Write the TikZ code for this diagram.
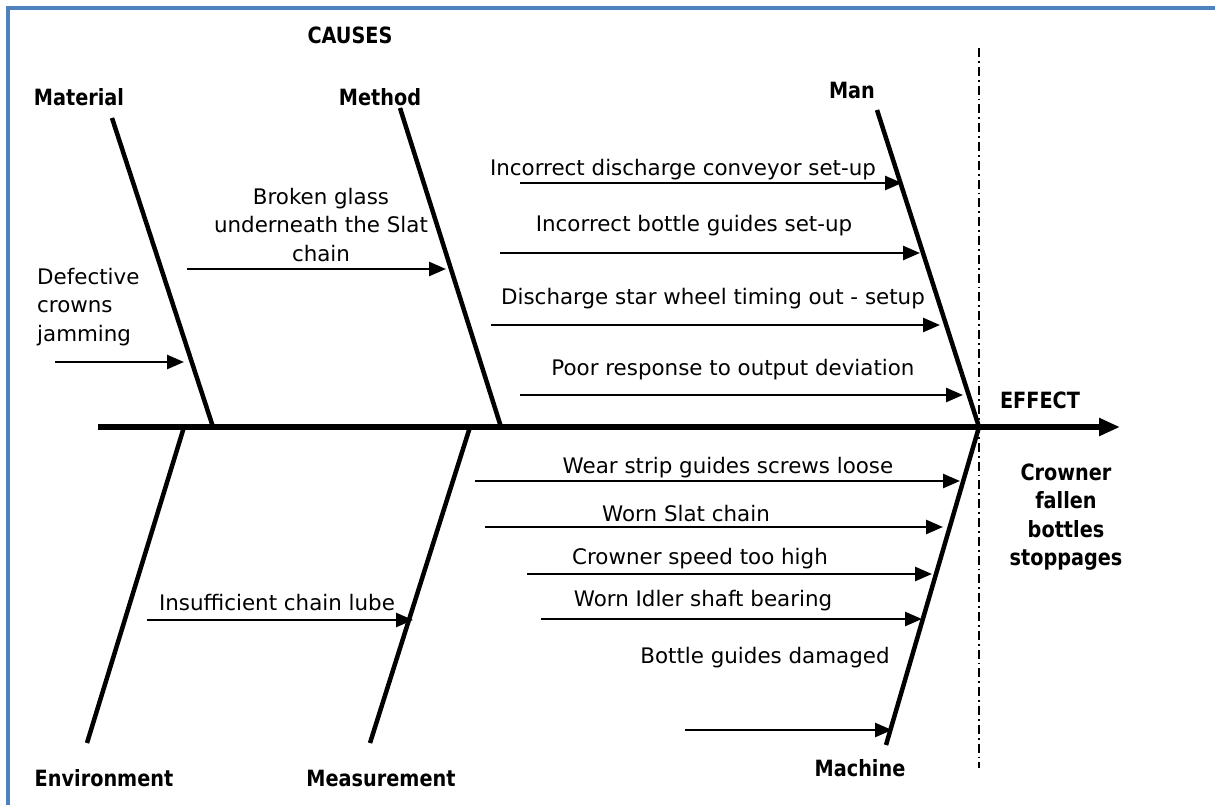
\documentclass[tikz,border=0pt]{standalone}
\usepackage{fontspec}
\setmainfont{DejaVu Sans}
\newfontfamily\headfont[FakeStretch=0.86]{DejaVu Sans}
\usetikzlibrary{arrows.meta}
\definecolor{framecol}{RGB}{79,129,189}
\begin{document}
\begin{tikzpicture}[x=1pt,y=-1pt,
  lbl/.style={font=\fontsize{21.4}{28.5}\selectfont, inner sep=0pt, align=center},
  head/.style={font=\headfont\fontsize{22.4}{28.5}\selectfont\bfseries, inner sep=0pt, align=center},
  bone/.style={line width=4.5pt},
  spine/.style={line width=6pt, -{Triangle[length=21pt,width=17pt]}},
  cause/.style={line width=2.6pt, -{Triangle[length=17pt,width=14pt]}},
  frame/.style={line width=3.5pt, draw=framecol},
  effectline/.style={line width=1.8pt, dash pattern=on 9pt off 4pt on 1.8pt off 4pt}]
\useasboundingbox (0,0) rectangle (1215,805);

% frame (top and left edges)
\draw[frame] (8,805) -- (8,8) -- (1215,8);

% effect separator
\coordinate (sepT) at (979,48);
\coordinate (sepB) at (979,768);
\draw[effectline] (sepT) -- (sepB);

% spine
\coordinate (tail) at (98,427);
\coordinate (tip) at (1120,427);
\draw[spine] (tail) -- (tip);

% bones
\coordinate (matT) at (112,118);   \coordinate (matB) at (213,427);
\coordinate (metT) at (400,108);   \coordinate (metB) at (501,427);
\coordinate (manT) at (877,110);   \coordinate (manB) at (979,427);
\coordinate (envT) at (184,427);   \coordinate (envB) at (87,743);
\coordinate (meaT) at (470,427);   \coordinate (meaB) at (370,743);
\coordinate (macT) at (979,427);   \coordinate (macB) at (886,745);
\foreach \b in {mat,met,man,env,mea,mac} \draw[bone] (\b T) -- (\b B);

% category and heading labels
\node[head] (causes) at (350,35) {CAUSES};
\node[head] (material) at (79,97) {Material};
\node[head] (method) at (380,97) {Method};
\node[head] (man) at (852,90) {Man};
\node[head] (environment) at (104,778) {Environment};
\node[head] (measurement) at (381,778) {Measurement};
\node[head] (machine) at (860,768) {Machine};
\node[head] (effect) at (1040,400) {EFFECT};
\node[head] (problem) at (1066,517) {Crowner\\fallen\\bottles\\stoppages};

% Material
\node[lbl, align=left, anchor=west] (m1) at (37,307) {Defective\\crowns\\jamming};
\coordinate (m1s) at (55,362); \coordinate (m1e) at (184,362);
\draw[cause] (m1s) -- (m1e);

% Method
\node[lbl] (t1) at (321,225) {Broken glass\\underneath the Slat\\chain};
\coordinate (t1s) at (187,269); \coordinate (t1e) at (446,269);
\draw[cause] (t1s) -- (t1e);

% Man
\node[lbl] (a1) at (683,170) {Incorrect discharge conveyor set-up};
\coordinate (a1s) at (520,183); \coordinate (a1e) at (902,183);
\node[lbl] (a2) at (694,226) {Incorrect bottle guides set-up};
\coordinate (a2s) at (500,253); \coordinate (a2e) at (920,253);
\node[lbl] (a3) at (713,299) {Discharge star wheel timing out - setup};
\coordinate (a3s) at (491,325); \coordinate (a3e) at (940,325);
\node[lbl] (a4) at (733,370) {Poor response to output deviation};
\coordinate (a4s) at (520,395); \coordinate (a4e) at (963,395);
\foreach \a in {a1,a2,a3,a4} \draw[cause] (\a s) -- (\a e);

% Measurement
\node[lbl] (e1) at (277,603) {Insufficient chain lube};
\coordinate (e1s) at (147,620); \coordinate (e1e) at (413,620);
\draw[cause] (e1s) -- (e1e);

% Machine
\node[lbl] (k1) at (728,468) {Wear strip guides screws loose};
\coordinate (k1s) at (475,481); \coordinate (k1e) at (960,481);
\node[lbl] (k2) at (686,514) {Worn Slat chain};
\coordinate (k2s) at (485,527); \coordinate (k2e) at (943,527);
\node[lbl] (k3) at (700,559) {Crowner speed too high};
\coordinate (k3s) at (527,574); \coordinate (k3e) at (932,574);
\node[lbl] (k4) at (703,601) {Worn Idler shaft bearing};
\coordinate (k4s) at (541,619); \coordinate (k4e) at (922,619);
\node[lbl] (k5) at (765,658) {Bottle guides damaged};
\coordinate (k5s) at (685,730); \coordinate (k5e) at (892,730);
\foreach \k in {k1,k2,k3,k4,k5} \draw[cause] (\k s) -- (\k e);
\end{tikzpicture}
\end{document}
